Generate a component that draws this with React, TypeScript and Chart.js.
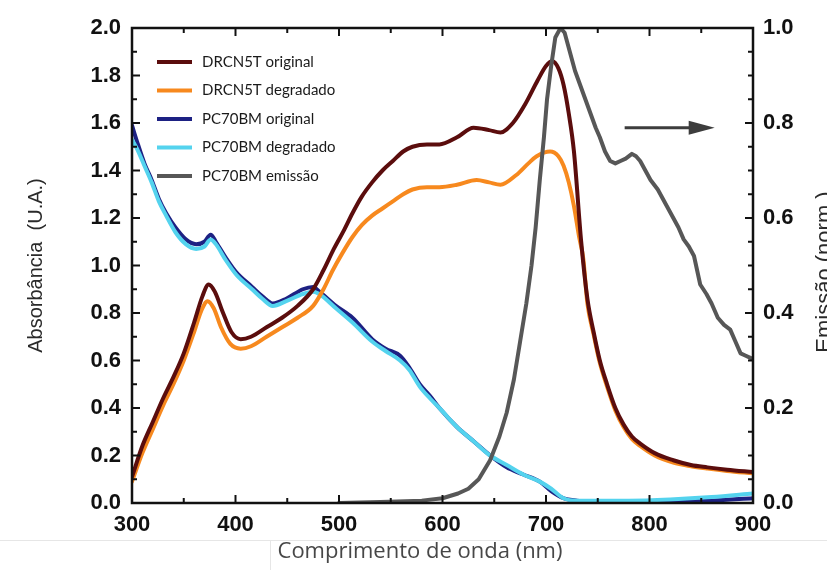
import React, { useEffect, useRef } from 'react';
import { Chart, registerables } from 'chart.js';

Chart.register(...registerables);

// ---- Axis ranges / ticks ----
const X_MIN = 300;
const X_MAX = 900;
const X_STEP = 100;
const X_MINOR = 50;
const Y_MIN = 0;
const Y_MAX = 2.0;
const Y_STEP = 0.2;
const Y_MINOR = 0.1;
const Y2_MIN = 0;
const Y2_MAX = 1.0;
const Y2_STEP = 0.2;
const Y2_MINOR = 0.05;

// ---- Labels ----
const X_TITLE = 'Comprimento de onda (nm)';
const Y_TITLE = 'Absorbância  (U.A.)';
const Y2_TITLE = 'Emissão (norm.)';
const SERIES_LABELS = [
  'DRCN5T original',
  'DRCN5T degradado',
  'PC70BM original',
  'PC70BM degradado',
  'PC70BM emissão',
];

// ---- Data (wavelength nm / value) ----
const drcnOrigNm = [300, 310, 320, 330, 340, 350, 360, 368, 374, 380, 388, 396, 405, 415, 430, 445, 460, 475, 485, 495, 505, 513, 522, 532, 542, 552, 562, 571, 585, 597, 614, 630, 645, 656, 668, 680, 692, 700, 706, 712, 717, 722, 727, 734, 740, 746, 752, 759, 767, 775, 783, 791, 805, 823, 840, 856, 875, 900];
const drcnOrigAbs = [0.11, 0.24, 0.34, 0.44, 0.53, 0.63, 0.76, 0.87, 0.92, 0.89, 0.80, 0.72, 0.69, 0.70, 0.74, 0.78, 0.83, 0.90, 0.98, 1.07, 1.15, 1.22, 1.29, 1.35, 1.40, 1.44, 1.48, 1.50, 1.51, 1.51, 1.54, 1.58, 1.57, 1.56, 1.60, 1.68, 1.78, 1.84, 1.86, 1.83, 1.76, 1.64, 1.48, 1.10, 0.86, 0.72, 0.60, 0.50, 0.40, 0.33, 0.28, 0.25, 0.21, 0.18, 0.16, 0.15, 0.14, 0.13];

const drcnDegNm = [300, 310, 320, 330, 340, 350, 360, 367, 373, 379, 386, 395, 405, 415, 430, 445, 460, 475, 485, 494, 503, 513, 522, 532, 542, 552, 562, 571, 585, 597, 614, 633, 645, 656, 671, 683, 691, 704, 712, 717, 722, 727, 732, 736, 740, 746, 752, 759, 767, 775, 783, 791, 805, 823, 840, 856, 875, 900];
const drcnDegAbs = [0.09, 0.21, 0.31, 0.41, 0.50, 0.60, 0.72, 0.81, 0.85, 0.82, 0.74, 0.67, 0.65, 0.66, 0.70, 0.74, 0.78, 0.83, 0.90, 0.98, 1.05, 1.12, 1.17, 1.21, 1.24, 1.27, 1.30, 1.32, 1.33, 1.33, 1.34, 1.36, 1.35, 1.34, 1.38, 1.43, 1.46, 1.48, 1.46, 1.42, 1.35, 1.25, 1.12, 1.03, 0.84, 0.71, 0.59, 0.49, 0.39, 0.32, 0.27, 0.24, 0.20, 0.17, 0.155, 0.145, 0.135, 0.125];

const pcOrigNm = [300, 305, 312, 319, 326, 333, 342, 352, 362, 370, 376, 381, 391, 401, 416, 426, 436, 449, 465, 475, 481, 497, 513, 532, 545, 559, 568, 578, 588, 597, 614, 630, 646, 662, 678, 694, 705, 717, 730, 745, 780, 820, 860, 900];
const pcOrigAbs = [1.59, 1.52, 1.43, 1.36, 1.28, 1.22, 1.16, 1.11, 1.09, 1.10, 1.13, 1.10, 1.03, 0.97, 0.91, 0.87, 0.84, 0.86, 0.90, 0.91, 0.89, 0.83, 0.78, 0.69, 0.65, 0.62, 0.57, 0.50, 0.45, 0.40, 0.32, 0.26, 0.20, 0.15, 0.12, 0.09, 0.05, 0.02, 0.01, 0.005, 0.005, 0.007, 0.01, 0.02];

const pcDegNm = [300, 305, 312, 319, 326, 333, 342, 352, 362, 370, 376, 381, 391, 401, 416, 426, 436, 449, 465, 475, 481, 497, 513, 532, 545, 559, 568, 578, 588, 597, 614, 630, 646, 662, 678, 694, 705, 717, 730, 745, 780, 820, 860, 900];
const pcDegAbs = [1.53, 1.49, 1.42, 1.35, 1.27, 1.21, 1.14, 1.09, 1.07, 1.08, 1.11, 1.09, 1.02, 0.96, 0.90, 0.86, 0.83, 0.85, 0.88, 0.89, 0.88, 0.82, 0.76, 0.68, 0.64, 0.60, 0.56, 0.49, 0.44, 0.40, 0.32, 0.26, 0.20, 0.16, 0.12, 0.09, 0.06, 0.02, 0.01, 0.01, 0.01, 0.015, 0.025, 0.04];

const emisNm = [500, 540, 580, 600, 615, 625, 635, 646, 655, 662, 669, 675, 681, 686, 690, 694, 698, 701, 705, 709, 714, 718, 723, 728, 733, 738, 743, 748, 752, 757, 762, 767, 772, 777, 783, 787, 791, 796, 801, 808, 813, 818, 823, 828, 833, 838, 843, 849, 855, 860, 866, 872, 878, 883, 888, 893, 898];
const emisNorm = [0.0, 0.002, 0.005, 0.01, 0.02, 0.03, 0.05, 0.09, 0.14, 0.19, 0.26, 0.34, 0.42, 0.50, 0.58, 0.68, 0.77, 0.85, 0.92, 0.98, 1.0, 0.99, 0.95, 0.91, 0.88, 0.85, 0.82, 0.79, 0.77, 0.74, 0.72, 0.715, 0.72, 0.725, 0.735, 0.73, 0.72, 0.70, 0.68, 0.66, 0.64, 0.62, 0.60, 0.58, 0.555, 0.54, 0.52, 0.46, 0.44, 0.42, 0.39, 0.375, 0.365, 0.34, 0.315, 0.31, 0.305];

// arrow pointing to the right axis (nm start, nm end, emission level)
const ARROW = { from: 776, to: 863, level: 0.79 };

const COLORS = ['#5b0d0d', '#f7891e', '#1d2183', '#54d3ee', '#575757'];

const pts = (xs: number[], ys: number[]) => xs.map((x, i) => ({ x, y: ys[i] }));

const decorPlugin = {
  id: 'decor',
  afterDatasetsDraw(chart: any) {
    const { ctx, chartArea: a, scales } = chart;
    const sx = scales.x;
    const sy = scales.y;
    const sy2 = scales.y2;
    ctx.save();

    // frame
    ctx.strokeStyle = '#111';
    ctx.lineWidth = 2.5;
    ctx.strokeRect(a.left, a.top, a.right - a.left, a.bottom - a.top);

    const seg = (x1: number, y1: number, x2: number, y2: number) => {
      ctx.beginPath();
      ctx.moveTo(x1, y1);
      ctx.lineTo(x2, y2);
      ctx.stroke();
    };
    ctx.lineWidth = 2;

    // x ticks (bottom and top, inward)
    const nx = Math.round((X_MAX - X_MIN) / X_MINOR);
    for (let i = 0; i <= nx; i++) {
      const v = X_MIN + i * X_MINOR;
      const px = sx.getPixelForValue(v);
      const r = (v - X_MIN) / X_STEP;
      const len = Math.abs(r - Math.round(r)) < 1e-6 ? 8 : 5;
      seg(px, a.bottom, px, a.bottom - len);
      seg(px, a.top, px, a.top + len);
    }
    // left ticks
    const ny = Math.round((Y_MAX - Y_MIN) / Y_MINOR);
    for (let i = 0; i <= ny; i++) {
      const v = Y_MIN + i * Y_MINOR;
      const py = sy.getPixelForValue(v);
      const r = (v - Y_MIN) / Y_STEP;
      const len = Math.abs(r - Math.round(r)) < 1e-6 ? 8 : 5;
      seg(a.left, py, a.left + len, py);
    }
    // right ticks
    const ny2 = Math.round((Y2_MAX - Y2_MIN) / Y2_MINOR);
    for (let i = 0; i <= ny2; i++) {
      const v = Y2_MIN + i * Y2_MINOR;
      const py = sy2.getPixelForValue(v);
      const r = (v - Y2_MIN) / Y2_STEP;
      const len = Math.abs(r - Math.round(r)) < 1e-6 ? 8 : 5;
      seg(a.right, py, a.right - len, py);
    }

    // legend inside plot area
    const ds = chart.data.datasets;
    ctx.font = '15px Lato, "Open Sans", sans-serif';
    ctx.textBaseline = 'middle';
    ctx.textAlign = 'left';
    for (let i = 0; i < ds.length; i++) {
      const ly = 62 + i * 28.5;
      ctx.strokeStyle = ds[i].borderColor;
      ctx.lineWidth = 4;
      seg(157, ly, 192, ly);
      ctx.fillStyle = '#1a1a1a';
      ctx.fillText(ds[i].label, 202, ly);
    }

    // arrow toward right axis
    const ax1 = sx.getPixelForValue(ARROW.from);
    const ax2 = sx.getPixelForValue(ARROW.to);
    const ay = sy2.getPixelForValue(ARROW.level);
    ctx.strokeStyle = '#3d3d3d';
    ctx.fillStyle = '#3d3d3d';
    ctx.lineWidth = 3;
    seg(ax1, ay, ax2 - 20, ay);
    ctx.beginPath();
    ctx.moveTo(ax2, ay);
    ctx.lineTo(ax2 - 26, ay - 7);
    ctx.lineTo(ax2 - 26, ay + 7);
    ctx.closePath();
    ctx.fill();

    // x title
    ctx.fillStyle = '#474747';
    ctx.font = '22px "Open Sans", sans-serif';
    ctx.textAlign = 'center';
    ctx.textBaseline = 'middle';
    ctx.fillText(X_TITLE, 420, 552);

    // right title (rotated, reading upward, partly clipped by the edge)
    ctx.save();
    ctx.translate(831, 272);
    ctx.rotate(-Math.PI / 2);
    ctx.fillStyle = '#2a2a2a';
    ctx.font = '22px "Liberation Sans", Arial, sans-serif';
    ctx.textAlign = 'center';
    ctx.textBaseline = 'alphabetic';
    ctx.fillText(Y2_TITLE, 0, 0);
    ctx.restore();

    // faint separator lines
    ctx.strokeStyle = '#e6e6e6';
    ctx.lineWidth = 1;
    seg(0, 540.5, 827, 540.5);
    seg(270.5, 541, 270.5, 570);

    ctx.restore();
  },
};

export default function App() {
  const ref = useRef<HTMLCanvasElement | null>(null);

  useEffect(() => {
    if (!ref.current) return;
    const tickFont = { family: '"Liberation Sans", Arial, sans-serif', size: 22, weight: 'bold' as const };
    const series = [
      { data: pts(drcnOrigNm, drcnOrigAbs), axis: 'y', order: 1, smooth: true },
      { data: pts(drcnDegNm, drcnDegAbs), axis: 'y', order: 2, smooth: true },
      { data: pts(pcOrigNm, pcOrigAbs), axis: 'y', order: 4, smooth: true },
      { data: pts(pcDegNm, pcDegAbs), axis: 'y', order: 3, smooth: true },
      { data: pts(emisNm, emisNorm), axis: 'y2', order: 0, smooth: false },
    ];
    const chart = new Chart(ref.current, {
      type: 'line',
      data: {
        datasets: series.map((s, i) => ({
          label: SERIES_LABELS[i],
          data: s.data,
          yAxisID: s.axis,
          order: s.order,
          borderColor: COLORS[i],
          backgroundColor: COLORS[i],
          borderWidth: 4,
          pointRadius: 0,
          borderCapStyle: 'round',
          borderJoinStyle: 'round',
          cubicInterpolationMode: s.smooth ? 'monotone' : 'default',
          tension: 0,
          fill: false,
        })),
      },
      options: {
        responsive: false,
        animation: false,
        devicePixelRatio: 1,
        layout: { padding: { top: 28, left: 0, right: 0, bottom: 0 } },
        plugins: {
          legend: { display: false },
          tooltip: { enabled: false },
        },
        scales: {
          x: {
            type: 'linear',
            min: X_MIN,
            max: X_MAX,
            grid: { display: false, drawTicks: false },
            border: { display: false },
            ticks: { stepSize: X_STEP, font: tickFont, color: '#111', padding: 9, maxRotation: 0 },
            afterFit: (s: any) => { s.height = 67; },
          },
          y: {
            type: 'linear',
            position: 'left',
            min: Y_MIN,
            max: Y_MAX,
            grid: { display: false, drawTicks: false },
            border: { display: false },
            ticks: {
              stepSize: Y_STEP,
              font: tickFont,
              color: '#111',
              padding: 11,
              callback: (v: any) => Number(v).toFixed(1),
            },
            title: {
              display: true,
              text: Y_TITLE,
              color: '#2a2a2a',
              font: { family: '"Liberation Sans", Arial, sans-serif', size: 20 },
              padding: { top: 24, bottom: 0 },
            },
            afterFit: (s: any) => { s.width = 132; },
          },
          y2: {
            type: 'linear',
            position: 'right',
            min: Y2_MIN,
            max: Y2_MAX,
            grid: { display: false, drawTicks: false },
            border: { display: false },
            ticks: {
              stepSize: Y2_STEP,
              font: tickFont,
              color: '#111',
              padding: 10,
              callback: (v: any) => Number(v).toFixed(1),
            },
            afterFit: (s: any) => { s.width = 74; },
          },
        },
      },
      plugins: [decorPlugin],
    } as any);
    return () => chart.destroy();
  }, []);

  return (
    <div style={{ position: 'absolute', left: 0, top: 0, width: 827, height: 570, background: '#fff' }}>
      <canvas ref={ref} width={827} height={570} />
    </div>
  );
}
